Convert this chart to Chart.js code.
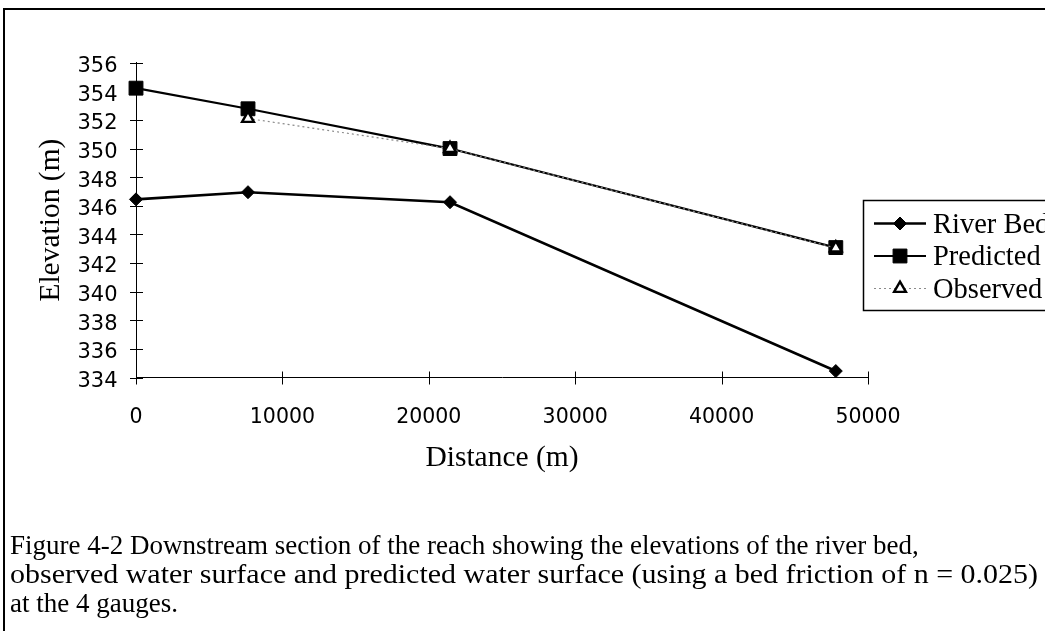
<!DOCTYPE html>
<html>
<head>
<meta charset="utf-8">
<script src="https://cdn.jsdelivr.net/npm/chart.js@4.4.1/dist/chart.umd.min.js"></script>
<style>
html,body{margin:0;padding:0;background:#fff;overflow:hidden;width:1045px;height:631px;}
#frame{position:absolute;left:3px;top:8px;width:1100px;height:700px;border-top:2px solid #000;border-left:2px solid #000;}
#c{position:absolute;left:0;top:0;}
#caption{position:absolute;left:10px;top:531px;font-family:"Liberation Serif";font-size:27px;line-height:29px;color:#000;white-space:nowrap;}
#caption span{display:block;transform-origin:0 50%;}
#caption .l2{transform:scaleX(1.11);}
</style>
</head>
<body>
<div id="frame"></div>
<canvas id="c" width="1045" height="631"></canvas>
<div id="caption"><span>Figure 4-2 Downstream section of the reach showing the elevations of the river bed,</span><span class="l2">observed water surface and predicted water surface (using a bed friction of n = 0.025)</span><span>at the 4 gauges.</span></div>
<script>
// ---- data ----
const distance  = [0, 7650, 21450, 47800];
const riverBed  = [346.45, 346.95, 346.25, 334.45];
const predicted = [354.22, 352.78, 350.0, 343.08];
const observed  = [null, 352.1, 350.0, 343.05];
const seriesNames = ['River Bed', 'Predicted', 'Observed'];
const xTickValues = [0, 10000, 20000, 30000, 40000, 50000];
const yTickValues = [334, 336, 338, 340, 342, 344, 346, 348, 350, 352, 354, 356];

function pts(vals){
  const out = [];
  vals.forEach((v,i)=>{ if(v!==null) out.push({x:distance[i], y:v}); });
  return out;
}

const styles = [
  {borderColor:'#000', borderWidth:2.6, borderDash:[], pointStyle:'rectRot', pointRadius:6.5, pointBackgroundColor:'#000', pointBorderColor:'#000', pointBorderWidth:1},
  {borderColor:'#000', borderWidth:2.2, borderDash:[], pointStyle:'rect', pointRadius:9.8, pointBackgroundColor:'#000', pointBorderColor:'#000', pointBorderWidth:1},
  {borderColor:'#8a8a8a', borderWidth:1.2, borderDash:[2,3], pointStyle:'triangle', pointRadius:6.8, pointBackgroundColor:'#fff', pointBorderColor:'#000', pointBorderWidth:2.4}
];

const crossTicks = {
  id:'crossTicks',
  beforeDatasetsDraw(chart){
    const {ctx, scales:{x,y}, chartArea:a} = chart;
    ctx.save();
    ctx.strokeStyle='#000'; ctx.lineWidth=1;
    ctx.beginPath();
    yTickValues.forEach(v=>{
      const py=Math.round(y.getPixelForValue(v))+0.5;
      ctx.moveTo(a.left-6,py); ctx.lineTo(a.left+7,py);
    });
    xTickValues.forEach(v=>{
      const px=Math.round(x.getPixelForValue(v))+0.5;
      ctx.moveTo(px,a.bottom-6); ctx.lineTo(px,a.bottom+7);
    });
    ctx.stroke();
    // y tick labels
    ctx.fillStyle='#000';
    ctx.font='21px "DejaVu Sans"';
    ctx.textAlign='right'; ctx.textBaseline='middle';
    yTickValues.forEach(v=>{
      ctx.fillText(String(v), a.left-18.5, y.getPixelForValue(v)+4);
    });
    ctx.restore();
  }
};

function drawMarker(ctx, st, cx, cy){
  ctx.save();
  ctx.fillStyle=st.pointBackgroundColor; ctx.strokeStyle=st.pointBorderColor; ctx.lineWidth=st.pointBorderWidth;
  ctx.setLineDash([]);
  const r=st.pointRadius;
  ctx.beginPath();
  if(st.pointStyle==='rectRot'){
    ctx.moveTo(cx-r,cy); ctx.lineTo(cx,cy-r); ctx.lineTo(cx+r,cy); ctx.lineTo(cx,cy+r); ctx.closePath();
  } else if(st.pointStyle==='rect'){
    const s=r*Math.SQRT1_2; ctx.rect(cx-s,cy-s,2*s,2*s);
  } else {
    ctx.moveTo(cx,cy-r);
    ctx.lineTo(cx+r*Math.sin(2*Math.PI/3),cy-r*Math.cos(2*Math.PI/3));
    ctx.lineTo(cx+r*Math.sin(4*Math.PI/3),cy-r*Math.cos(4*Math.PI/3));
    ctx.closePath();
  }
  ctx.fill(); ctx.stroke();
  ctx.restore();
}

const legendBox = {
  id:'legendBox',
  afterDraw(chart){
    const ctx=chart.ctx;
    const bx=863.5, by=200.5, rowH=32.5, first=23;
    ctx.save();
    ctx.fillStyle='#fff';
    ctx.fillRect(bx,by,300,110);
    ctx.strokeStyle='#000'; ctx.lineWidth=1.5;
    ctx.strokeRect(bx,by,300,110);
    ctx.font='28.5px "Liberation Serif"';
    ctx.textAlign='left'; ctx.textBaseline='middle';
    seriesNames.forEach((name,i)=>{
      const st=styles[i];
      const cy=by+first+i*rowH;
      ctx.save();
      ctx.strokeStyle=st.borderColor; ctx.lineWidth=st.borderWidth; ctx.setLineDash(st.borderDash);
      ctx.beginPath(); ctx.moveTo(874,cy); ctx.lineTo(926,cy); ctx.stroke();
      ctx.restore();
      drawMarker(ctx, st, 900, cy);
      ctx.fillStyle='#000';
      ctx.fillText(name, 933, cy+2);
    });
    ctx.restore();
  }
};

const seriesData = [riverBed, predicted, observed];
const datasets = seriesNames.map((name,i)=>Object.assign({
  label:name, data:pts(seriesData[i]), showLine:true, fill:false, tension:0,
  clip:false, order: 2-i
}, styles[i]));

new Chart(document.getElementById('c'), {
  type:'scatter',
  data:{datasets},
  options:{
    responsive:false, animation:false, devicePixelRatio:1,
    layout:{padding:{left:0, top:62.7, right:177, bottom:153.5}},
    plugins:{legend:{display:false}, tooltip:{enabled:false}},
    scales:{
      x:{
        type:'linear', min:0, max:50000,
        afterBuildTicks:s=>{ s.ticks = xTickValues.map(v=>({value:v})); },
        ticks:{font:{family:'DejaVu Sans', size:20.5}, color:'#000', padding:28, maxRotation:0, autoSkip:false, callback:v=>String(v)},
        grid:{display:false, drawTicks:false},
        border:{display:true, color:'#000', width:1},
        title:{display:true, text:'Distance (m)', font:{family:'Liberation Serif', size:29.5}, color:'#000', padding:{top:0, bottom:2}},
        afterFit:s=>{ s.height=100; }
      },
      y:{
        type:'linear', min:334, max:356,
        afterBuildTicks:s=>{ s.ticks = yTickValues.map(v=>({value:v})); },
        ticks:{display:false},
        grid:{display:false, drawTicks:false},
        border:{display:true, color:'#000', width:1},
        title:{display:true, text:'Elevation (m)', font:{family:'Liberation Serif', size:29.5}, color:'#000', padding:{top:33.5, bottom:0}},
        afterFit:s=>{ s.width=136; }
      }
    }
  },
  plugins:[crossTicks, legendBox]
});
</script>
</body>
</html>
